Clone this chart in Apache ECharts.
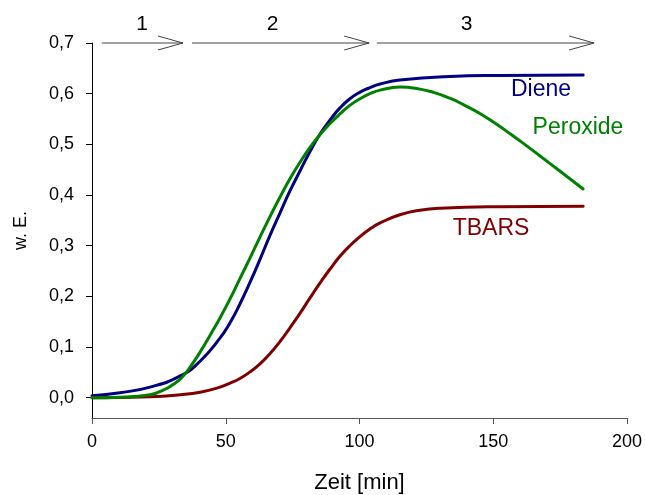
<!DOCTYPE html>
<html>
<head>
<meta charset="utf-8">
<script src="https://cdn.jsdelivr.net/npm/echarts@6/dist/echarts.min.js"></script>
<style>
html,body{margin:0;padding:0;background:#fff;}
#chart{width:645px;height:495px;}
</style>
</head>
<body>
<div id="chart"></div>
<script>
// ---- data ----
const xTicks = [0, 50, 100, 150, 200];
const yTicks = [0, 0.1, 0.2, 0.3, 0.4, 0.5, 0.6, 0.7];

const dieneX = [0, 10.5, 21.7, 33, 40.4, 47.9, 51.6, 55.3, 59.1, 62.8, 66.5, 70.3, 74.0, 77.8, 81.5, 85.2, 89.0, 92.7, 96.4, 100.2, 103.9, 107.7, 115.1, 133.8, 152.5, 183.6];
const dieneY = [0.004, 0.01, 0.021, 0.043, 0.072, 0.118, 0.148, 0.185, 0.228, 0.273, 0.32, 0.365, 0.408, 0.448, 0.486, 0.52, 0.548, 0.572, 0.59, 0.603, 0.612, 0.619, 0.627, 0.634, 0.636, 0.637];

const peroxX = [0, 10.5, 21.7, 27, 30, 33.6, 37, 40.4, 44, 47.9, 51.6, 55.3, 59.1, 62.8, 66.5, 70.3, 74.0, 77.8, 81.5, 85.2, 89.0, 92.7, 96.4, 100.2, 103.9, 107.7, 115.1, 122.6, 128, 133.8, 139, 145.0, 150.6, 156.3, 162, 167.5, 175, 183.6];
const peroxY = [0.0, 0.001, 0.006, 0.016, 0.025, 0.04, 0.063, 0.09, 0.122, 0.158, 0.195, 0.235, 0.276, 0.317, 0.357, 0.396, 0.432, 0.465, 0.494, 0.519, 0.541, 0.56, 0.577, 0.59, 0.6, 0.607, 0.613, 0.609, 0.602, 0.591, 0.578, 0.561, 0.542, 0.521, 0.499, 0.477, 0.447, 0.412];

const tbarsX = [0, 21.7, 33, 40.4, 47.9, 51.6, 55.3, 59.1, 62.8, 66.5, 70.3, 74.0, 77.8, 81.5, 85.2, 89.0, 92.7, 96.4, 100.2, 103.9, 107.7, 115.1, 122.6, 130.1, 152.5, 183.6];
const tbarsY = [0.0, 0.002, 0.006, 0.011, 0.021, 0.029, 0.038, 0.051, 0.067, 0.087, 0.111, 0.138, 0.167, 0.197, 0.226, 0.254, 0.279, 0.3, 0.318, 0.333, 0.345, 0.361, 0.37, 0.374, 0.377, 0.378];

// phases (arrows along the top)
const phaseNames = ['1', '2', '3'];
const phaseStart = [3.7, 37.4, 106.5];
const phaseEnd = [34.0, 103.6, 187.7];
const phaseLabelX = [18.7, 67.5, 140.0];
const phaseLevel = 0.7;

const seriesNames = ['Diene', 'Peroxide', 'TBARS'];
// ---- end data ----

const FONT = '"Liberation Sans", Arial, sans-serif';
const zip = (xs, ys) => xs.map((x, i) => [x, ys[i]]);
const fmt = v => v.toFixed(1).replace('.', ',');

const chart = echarts.init(document.getElementById('chart'), null, {renderer: 'canvas'});

const phaseData = phaseNames.map((n, i) => [phaseStart[i], phaseEnd[i], phaseLevel, phaseLabelX[i]]);

const mkLine = (name, data, color, z) => ({
  name: name, type: 'line', data: data, smooth: 0.5,
  showSymbol: false, symbol: 'none',
  lineStyle: {color: color, width: 3, cap: 'round', join: 'round'},
  itemStyle: {color: color}, z: z
});

chart.setOption({
  backgroundColor: '#fff',
  animation: false,
  textStyle: {fontFamily: FONT},
  grid: {left: 92, right: 18, top: 43, bottom: 77, containLabel: false, outerBoundsMode: 'none'},
  xAxis: {
    type: 'value', min: 0, max: 200, interval: 50,
    name: 'Zeit [min]', nameLocation: 'middle', nameGap: 54,
    nameTextStyle: {fontSize: 22, color: '#000', fontFamily: FONT},
    axisLine: {show: true, onZero: false, lineStyle: {color: '#555', width: 1}},
    axisTick: {show: true, inside: false, length: 6, lineStyle: {color: '#555'}},
    axisLabel: {fontSize: 18, color: '#000', margin: 15, fontFamily: FONT},
    splitLine: {show: false}
  },
  yAxis: {
    type: 'value', min: -0.04, max: 0.7,
    name: 'w. E.', nameLocation: 'middle', nameGap: 62, nameRotate: 90,
    nameTextStyle: {fontSize: 18, color: '#000', fontFamily: FONT},
    axisLine: {show: true, onZero: false, lineStyle: {color: '#000', width: 1}},
    axisTick: {show: true, inside: false, length: 6, customValues: yTicks, lineStyle: {color: '#000'}},
    axisLabel: {fontSize: 18, color: '#000', margin: 18, customValues: yTicks, formatter: fmt, fontFamily: FONT},
    splitLine: {show: false}
  },
  series: [
    mkLine(seriesNames[0], zip(dieneX, dieneY), '#000080', 3),
    mkLine(seriesNames[1], zip(peroxX, peroxY), '#008000', 4),
    mkLine(seriesNames[2], zip(tbarsX, tbarsY), '#800000', 3),
    {
      type: 'custom', clip: false, silent: true, z: 5,
      encode: {x: [0, 1], y: 2},
      data: phaseData,
      renderItem: function (params, api) {
        const p0 = api.coord([api.value(0), api.value(2)]);
        const p1 = api.coord([api.value(1), api.value(2)]);
        const lx = api.coord([api.value(3), api.value(2)])[0];
        const name = phaseNames[params.dataIndex];
        const stroke = {stroke: '#444', lineWidth: 1, fill: null};
        return {
          type: 'group',
          children: [
            {type: 'line', shape: {x1: p0[0], y1: p0[1], x2: p1[0], y2: p1[1]}, style: stroke},
            {type: 'polyline', shape: {points: [[p1[0] - 25, p1[1] - 7], [p1[0], p1[1]], [p1[0] - 25, p1[1] + 7]]}, style: stroke},
            {type: 'text', x: lx, y: p1[1] - 19, style: {text: name, fill: '#000', font: '21px ' + FONT, align: 'center', verticalAlign: 'middle'}}
          ]
        };
      }
    }
  ],
  graphic: [
    {type: 'text', x: 541, y: 90, style: {text: seriesNames[0], fill: '#000080', font: '23px ' + FONT, align: 'center', verticalAlign: 'middle'}},
    {type: 'text', x: 578, y: 128, style: {text: seriesNames[1], fill: '#008000', font: '23px ' + FONT, align: 'center', verticalAlign: 'middle'}},
    {type: 'text', x: 491, y: 229, style: {text: seriesNames[2], fill: '#800000', font: '23px ' + FONT, align: 'center', verticalAlign: 'middle'}}
  ]
});
</script>
</body>
</html>
